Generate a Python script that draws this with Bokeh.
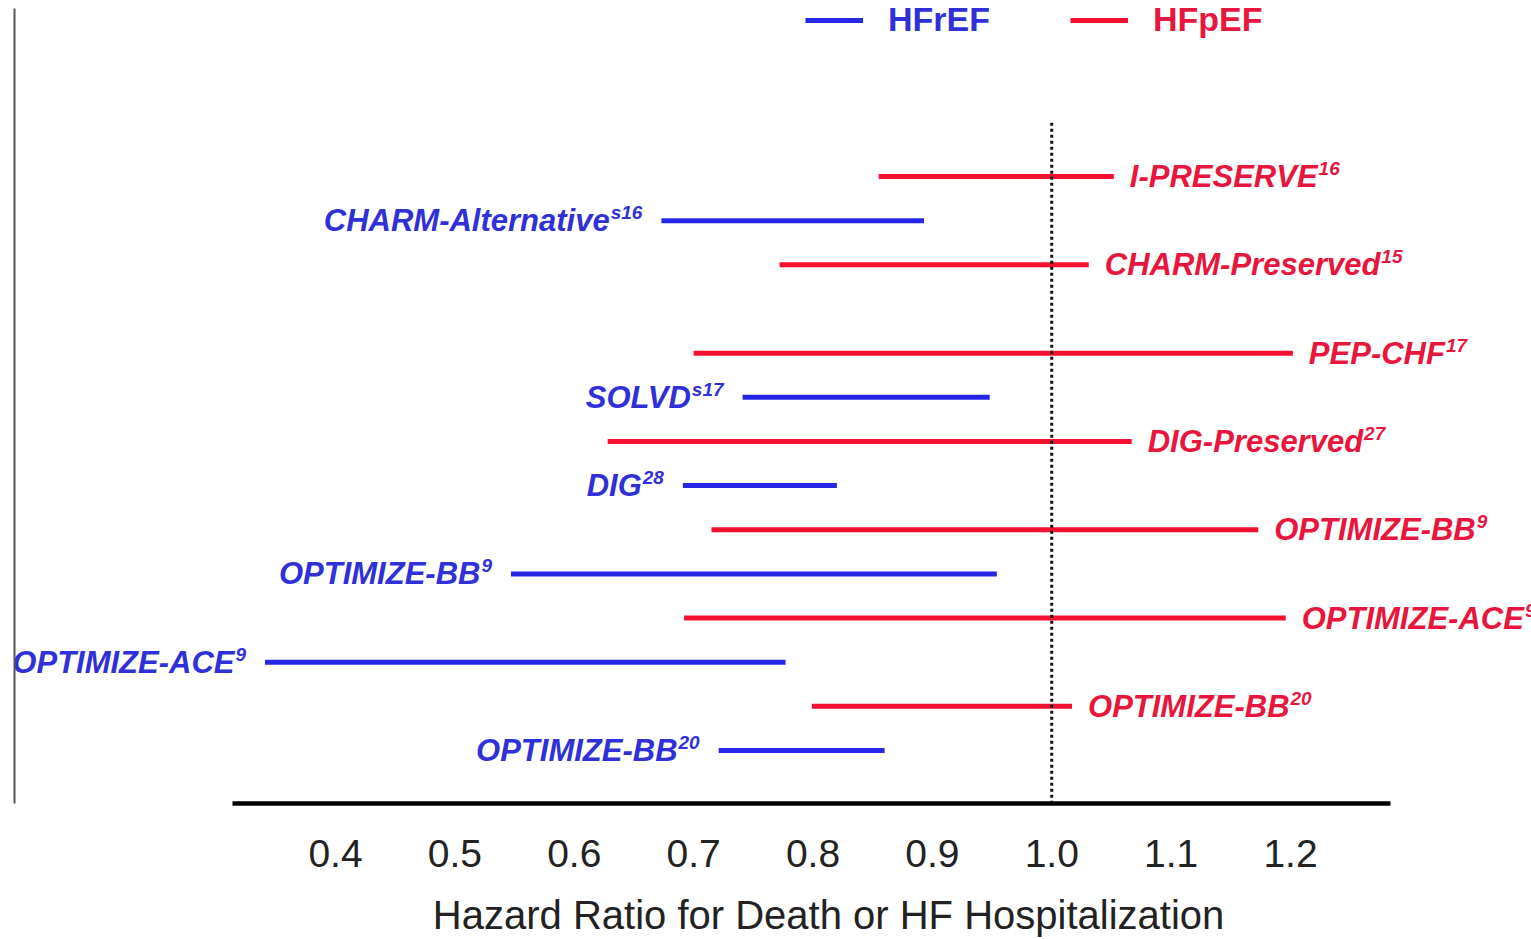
from bokeh.plotting import figure
from bokeh.models import Range1d, Legend, LegendItem, FixedTicker, ColumnDataSource
from bokeh.core.properties import value
from bokeh.embed import file_html
from bokeh.resources import INLINE

# ---------------- data ----------------
studies = ["I-PRESERVE", "CHARM-Alternative", "CHARM-Preserved",
           "PEP-CHF", "SOLVD", "DIG-Preserved", "DIG",
           "OPTIMIZE-BB", "OPTIMIZE-BB", "OPTIMIZE-ACE", "OPTIMIZE-ACE",
           "OPTIMIZE-BB", "OPTIMIZE-BB"]
refs = ["16", "s16", "15",
        "17", "s17", "27", "28",
        "9", "9", "9", "9",
        "20", "20"]
groups = ["HFpEF", "HFrEF", "HFpEF",
          "HFpEF", "HFrEF", "HFpEF", "HFrEF",
          "HFpEF", "HFrEF", "HFpEF", "HFrEF",
          "HFpEF", "HFrEF"]
hr_low = [0.855, 0.673, 0.772,
          0.700, 0.741, 0.628, 0.691,
          0.715, 0.547, 0.692, 0.341,
          0.799, 0.721]
hr_high = [1.052, 0.893, 1.031,
           1.202, 0.948, 1.067, 0.820,
           1.173, 0.954, 1.196, 0.777,
           1.017, 0.860]
series = ["HFrEF", "HFpEF"]
tick_values = [0.4, 0.5, 0.6, 0.7, 0.8, 0.9, 1.0, 1.1, 1.2]
tick_labels = ["0.4", "0.5", "0.6", "0.7", "0.8", "0.9", "1.0", "1.1", "1.2"]
x_title = "Hazard Ratio for Death or HF Hospitalization"
reference_hr = 1.0

# ---------------- style ----------------
line_colors = {"HFrEF": "#2626e8", "HFpEF": "#f51030"}
text_colors = {"HFrEF": "#3030d8", "HFpEF": "#e8163c"}
FONT = "Liberation Sans"
LABEL_PX = 31
SUP_PX = 19
GAP_LEFT = 19
GAP_RIGHT = 16
TITLE_SHIFT = "\u00a0" * 10   # nudges the centred axis title to the right

# advance widths (1/1000 em) of Liberation Sans Bold (same for bold italic)
_W = dict(zip("ABCDEFGHIJKLMNOPQRSTUVWXYZ",
              [722, 722, 722, 722, 667, 611, 778, 722, 278, 556, 722, 611, 833,
               722, 778, 667, 778, 722, 667, 611, 722, 667, 944, 667, 667, 611]))
_W.update(dict(zip("abcdefghijklmnopqrstuvwxyz",
                   [556, 611, 556, 611, 556, 333, 611, 611, 278, 278, 556, 278, 889,
                    611, 611, 611, 611, 389, 556, 333, 611, 556, 778, 556, 556, 500])))
_W.update({d: 556 for d in "0123456789"})
_W["-"] = 333


def text_width(s, px):
    return sum(_W.get(c, 556) for c in s) * px / 1000.0


# row order (one empty row after the third study)
rows = []
r = 0
for i in range(len(studies)):
    if i == 3:
        r += 1
    rows.append(r)
    r += 1

p = figure(width=1531, height=939,
           x_range=Range1d(0.1311, 1.4019), y_range=Range1d(14.20, -3.805),
           output_backend="svg", toolbar_location=None,
           min_border_left=14, min_border_right=0, min_border_top=8, min_border_bottom=136)
p.grid.visible = False
p.outline_line_color = None
p.background_fill_color = "white"
p.border_fill_color = "white"

renderers = {}
for g in series:
    idx = [i for i in range(len(studies)) if groups[i] == g]
    lo = [hr_low[i] for i in idx]
    hi = [hr_high[i] for i in idx]
    names = [studies[i] for i in idx]
    sups = [refs[i] for i in idx]
    if g == "HFrEF":
        main_off = [-GAP_LEFT - text_width(s, SUP_PX) - 1 for s in sups]
        sup_off = [-GAP_LEFT] * len(idx)
        align = "right"
        anchor = lo
    else:
        main_off = [GAP_RIGHT] * len(idx)
        sup_off = [GAP_RIGHT + text_width(n, LABEL_PX) + 1 for n in names]
        align = "left"
        anchor = hi
    src = ColumnDataSource(dict(lo=lo, hi=hi, row=[rows[i] for i in idx],
                                anchor=anchor, name=names, sup=sups,
                                main_off=main_off, sup_off=sup_off))
    renderers[g] = p.segment(x0="lo", y0="row", x1="hi", y1="row", source=src,
                             line_width=5, line_color=line_colors[g])
    p.text(x="anchor", y="row", text="name", source=src, text_align=align,
           text_baseline="middle", x_offset="main_off", text_font=value(FONT),
           text_font_style="bold italic", text_font_size=f"{LABEL_PX}px",
           text_color=text_colors[g])
    p.text(x="anchor", y="row", text="sup", source=src, text_align=align,
           text_baseline="middle", x_offset="sup_off", y_offset=-8,
           text_font=value(FONT), text_font_style="bold italic",
           text_font_size=f"{SUP_PX}px", text_color=text_colors[g])

# dotted reference line at HR = 1
p.segment(x0=[reference_hr], y0=[rows[0] - 1.22], x1=[reference_hr], y1=[p.y_range.start],
          line_dash="3 3", line_width=3, line_color="#111111")

# x axis
xa = p.xaxis[0]
xa.ticker = FixedTicker(ticks=tick_values)
xa.major_label_overrides = {t: s for t, s in zip(tick_values, tick_labels)}
xa.bounds = (0.3137, 1.2838)
xa.axis_line_width = 4.5
xa.axis_line_color = "black"
xa.major_tick_line_color = None
xa.minor_tick_line_color = None
xa.major_tick_out = 0
xa.major_tick_in = 0
xa.major_label_standoff = 36
xa.major_label_text_font = FONT
xa.major_label_text_font_size = "39px"
xa.major_label_text_color = "#222222"
xa.axis_label = TITLE_SHIFT + x_title
xa.axis_label_standoff = 23
xa.axis_label_text_font = FONT
xa.axis_label_text_font_size = "40px"
xa.axis_label_text_font_style = "normal"
xa.axis_label_text_color = "#222222"

# left edge line
ya = p.yaxis[0]
ya.ticker = FixedTicker(ticks=[])
ya.axis_line_color = "#555555"
ya.axis_line_width = 2
ya.major_tick_line_color = None
ya.minor_tick_line_color = None
ya.major_tick_out = 0
ya.major_label_text_font_size = "0px"
ya.major_label_standoff = 0

# legends (one per series so each label can take its colour)
leg_pos = {"HFrEF": (791, 764), "HFpEF": (1056, 764)}
for g in series:
    leg = Legend(items=[LegendItem(label=g, renderers=[renderers[g]])],
                 location=leg_pos[g], orientation="horizontal",
                 padding=0, margin=0, spacing=0, border_line_color=None,
                 background_fill_alpha=0, glyph_width=58, glyph_height=30,
                 label_standoff=25, label_text_font=FONT,
                 label_text_font_size="34px", label_text_font_style="bold",
                 label_text_color=text_colors[g])
    p.add_layout(leg)

open("out.html", "w").write(file_html(p, INLINE))
